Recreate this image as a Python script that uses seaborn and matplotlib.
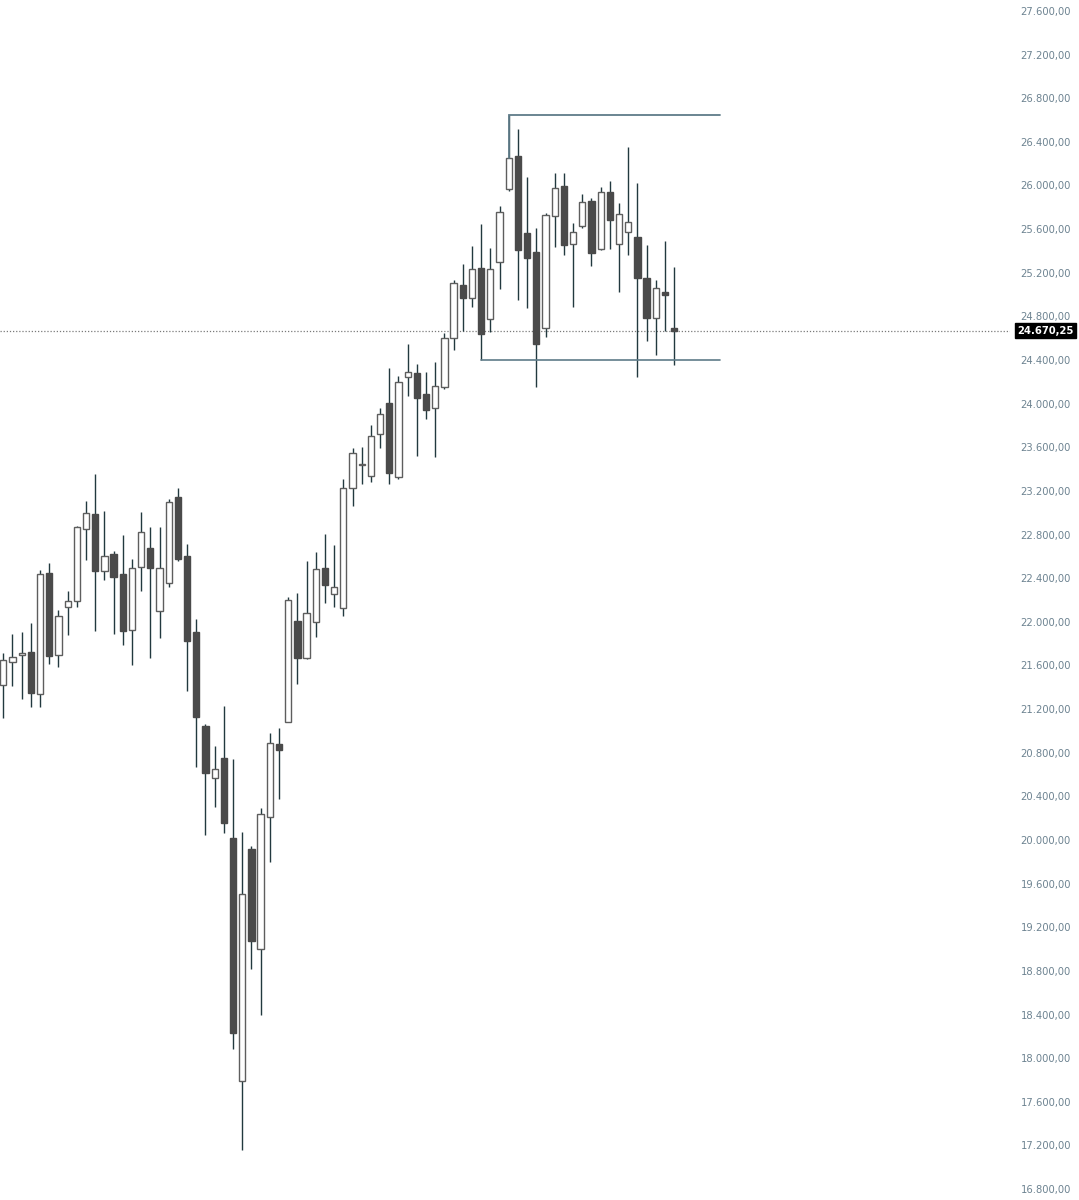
import matplotlib
matplotlib.use("Agg")
import matplotlib.pyplot as plt
import matplotlib.transforms as mtransforms
import numpy as np
import pandas as pd
import seaborn as sns

# ---------------- data ----------------
opens = [21420, 21630, 21700, 21725, 21335, 22450, 21700, 22135, 22195, 22850,
         22985, 22470, 22620, 22435, 21925, 22500, 22680, 22100, 22360, 23140,
         22605, 21910, 21048, 20565, 20749, 20015, 17791, 19917, 19004, 20214,
         20880, 21084, 22007, 21671, 21996, 22496, 22252, 22129, 23224, 23440,
         23339, 23719, 24009, 23330, 24247, 24278, 24086, 23957, 24150, 24599,
         25088, 24966, 25246, 24776, 25301, 25965, 26270, 25561, 25387, 24690,
         25723, 25995, 25463, 25628, 25857, 25417, 25943, 25463, 25576, 25525,
         25149, 24782, 25026, 24690]
highs = [21715, 21890, 21910, 21985, 22475, 22535, 22110, 22285, 22880, 23105,
         23355, 23020, 22650, 22800, 22580, 23005, 22870, 22870, 23130, 23225,
         22715, 22026, 21060, 20864, 21231, 20740, 20076, 19948, 20290, 20978,
         21029, 22225, 22267, 22557, 22637, 22802, 22704, 23306, 23591, 23600,
         23804, 23963, 24329, 24253, 24547, 24363, 24287, 24382, 24645, 25133,
         25277, 25445, 25644, 25424, 25814, 26646, 26515, 26075, 25607, 25745,
         26111, 26111, 25653, 25922, 25882, 25989, 26041, 25842, 26350, 26025,
         25454, 25133, 25491, 25250]
lows = [21120, 21410, 21290, 21215, 21215, 21610, 21585, 21880, 22140, 22565,
        21915, 22385, 21890, 21790, 21605, 22280, 21670, 21855, 22320, 22560,
        21365, 20672, 20046, 20300, 20061, 18081, 17158, 18817, 18399, 19801,
        20376, 21079, 21427, 21656, 21864, 22170, 22133, 22056, 23064, 23263,
        23284, 23591, 23261, 23309, 24073, 23520, 23859, 23514, 24131, 24492,
        24669, 24883, 24400, 24659, 25048, 25952, 24950, 24874, 24150, 24608,
        25439, 25362, 24883, 25607, 25262, 25408, 25417, 25020, 25362, 24241,
        24577, 24446, 24666, 24351]
closes = [21650, 21680, 21710, 21350, 22435, 21690, 22050, 22195, 22865, 23000,
          22470, 22600, 22415, 21915, 22495, 22820, 22495, 22495, 23100, 22575,
          21820, 21130, 20611, 20651, 20153, 18234, 19502, 19074, 20235, 20886,
          20825, 22200, 21671, 22078, 22487, 22337, 22322, 23229, 23545, 23450,
          23706, 23902, 23367, 24196, 24287, 24049, 23942, 24162, 24599, 25103,
          24966, 25234, 24636, 25231, 25754, 26249, 25408, 25332, 24544, 25729,
          25974, 25454, 25571, 25851, 25378, 25937, 25683, 25735, 25662, 25154,
          24788, 25063, 24998, 24670.25]

last_price = 24670.25
range_high = 26646
range_low = 24400
range_high_start = 55
range_low_start = 52
range_end = 78

y_ticks = list(range(16800, 27601, 400))

# ---------------- styling ----------------
sns.set_theme(style="white")
plt.rcParams["font.family"] = ["DejaVu Sans"]

W, H = 1079, 1200
fig = plt.figure(figsize=(W / 100, H / 100), dpi=100)
fig.patch.set_facecolor("white")
plot_w = 1010
ax = fig.add_axes([0, 0, plot_w / W, 1])
ax.set_facecolor("white")

spacing = 9.19
x_left = -3.3 / spacing
ax.set_xlim(x_left, x_left + plot_w / spacing)
ax.set_ylim(27700 - 9.1667 * H, 27700)

df = pd.DataFrame({"open": opens, "high": highs, "low": lows, "close": closes})
df["idx"] = np.arange(len(df))
df["up"] = df["close"] >= df["open"]

wick_col = "#22393f"
dark_body = "#4a4a4a"
up_edge = "#5e5e5e"
line_col = "#5f7c89"

# wicks
ax.vlines(df["idx"], df["low"], df["high"], color=wick_col, lw=1.0, zorder=2)

# bodies
bw = 0.68
body_bottom = np.minimum(df["open"], df["close"])
body_h = np.abs(df["close"] - df["open"]).clip(lower=8)
up = df["up"].values
ax.bar(df["idx"][up], body_h[up], bottom=body_bottom[up], width=bw,
       facecolor="white", edgecolor=up_edge, linewidth=1.0, zorder=3)
ax.bar(df["idx"][~up], body_h[~up], bottom=body_bottom[~up], width=bw,
       facecolor=dark_body, edgecolor=dark_body, linewidth=1.0, zorder=3)

# range lines
ax.plot([range_high_start, range_high_start, range_end],
        [closes[range_high_start], range_high, range_high],
        color=line_col, lw=1.3, zorder=4, solid_joinstyle="miter")
ax.plot([range_low_start, range_end], [range_low, range_low],
        color=line_col, lw=1.2, zorder=4)

# last price dotted line
ax.axhline(last_price, color="#7a7a7a", lw=0.9, linestyle=(0, (1, 1.5)), zorder=1)

# axis labels on the right
def fmt(v):
    s = f"{v:,.2f}"
    return s.replace(",", "X").replace(".", ",").replace("X", ".")

ax.yaxis.tick_right()
ax.set_yticks(y_ticks)
ax.set_yticklabels([fmt(v) for v in y_ticks])
ax.tick_params(axis="y", length=0, pad=7.5, labelsize=7.2, labelcolor="#6d8391")
ax.set_xticks([])
for s in ax.spines.values():
    s.set_visible(False)

trans = mtransforms.blended_transform_factory(fig.transFigure, ax.transData)
ax.text(1017 / W, last_price, fmt(last_price), transform=trans, ha="left", va="center",
        fontsize=7.2, fontweight="bold", color="white", zorder=10,
        bbox=dict(boxstyle="square,pad=0.25", facecolor="black", edgecolor="black"),
        clip_on=False)

fig.savefig("out.png", dpi=100, facecolor="white")
